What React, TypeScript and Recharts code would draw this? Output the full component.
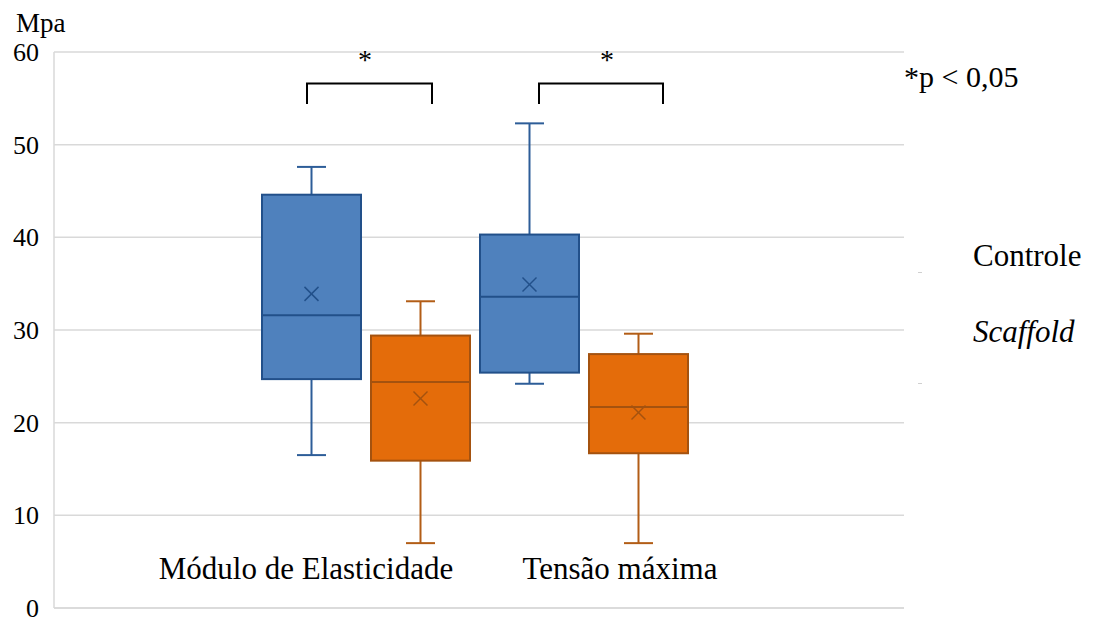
import {
  Bar,
  CartesianGrid,
  ComposedChart,
  Legend,
  XAxis,
  YAxis,
} from "recharts"

const categories = ["Módulo de Elasticidade", "Tensão máxima"]
const yTicks = [0, 10, 20, 30, 40, 50, 60]

const controleMin = [16.5, 24.2]
const controleQ1 = [24.7, 25.4]
const controleMedian = [31.6, 33.6]
const controleQ3 = [44.6, 40.3]
const controleMax = [47.6, 52.3]
const controleMean = [33.9, 34.9]

const scaffoldMin = [7.0, 7.0]
const scaffoldQ1 = [15.9, 16.7]
const scaffoldMedian = [24.4, 21.7]
const scaffoldQ3 = [29.4, 27.4]
const scaffoldMax = [33.1, 29.6]
const scaffoldMean = [22.6, 21.1]

// significance brackets: x in page pixels, heights in MPa
const bracketFrom = [307, 539]
const bracketTo = [432, 663]
const starX = [365, 607]
const bracketTop = 56.6
const bracketLeg = 54.4
const starLevel = 58.2

const data = categories.map((name, i) => ({
  name,
  idx: i,
  controle: [controleMin[i], controleMax[i]],
  scaffold: [scaffoldMin[i], scaffoldMax[i]],
}))

const labelShift = [-60, 36]
const FONT = '"Liberation Serif", "Times New Roman", serif'
const css = `#box-chart, #box-chart * { font-family: ${FONT} !important; }`

type Stats = {
  q1: number[]
  median: number[]
  q3: number[]
  mean: number[]
  min: number[]
  max: number[]
}

const makeBox = (s: Stats, fill: string, line: string, whisker: string, withBrackets: boolean) => (props: any) => {
  const { x, y, width, height, payload } = props
  const i = payload.idx
  const top = Math.min(y, y + height)
  const h = Math.abs(height)
  const k = h / (s.max[i] - s.min[i])
  const py = (v: number) => top + (s.max[i] - v) * k
  const cx = x + width / 2
  const cap = 14.5
  const m = 7
  return (
    <g>
      <line x1={cx} x2={cx} y1={py(s.max[i])} y2={py(s.q3[i])} stroke={whisker} strokeWidth={2} />
      <line x1={cx} x2={cx} y1={py(s.q1[i])} y2={py(s.min[i])} stroke={whisker} strokeWidth={2} />
      <line x1={cx - cap} x2={cx + cap} y1={py(s.max[i])} y2={py(s.max[i])} stroke={whisker} strokeWidth={2} />
      <line x1={cx - cap} x2={cx + cap} y1={py(s.min[i])} y2={py(s.min[i])} stroke={whisker} strokeWidth={2} />
      <rect
        x={x}
        y={py(s.q3[i])}
        width={width}
        height={py(s.q1[i]) - py(s.q3[i])}
        fill={fill}
        stroke={line}
        strokeWidth={2}
      />
      <line x1={x} x2={x + width} y1={py(s.median[i])} y2={py(s.median[i])} stroke={line} strokeWidth={2} />
      <line x1={cx - m} x2={cx + m} y1={py(s.mean[i]) - m} y2={py(s.mean[i]) + m} stroke={line} strokeWidth={1.5} />
      <line x1={cx - m} x2={cx + m} y1={py(s.mean[i]) + m} y2={py(s.mean[i]) - m} stroke={line} strokeWidth={1.5} />
      {withBrackets && (
        <g>
          <path
            d={`M${bracketFrom[i]},${py(bracketLeg)} V${py(bracketTop)} H${bracketTo[i]} V${py(bracketLeg)}`}
            fill="none"
            stroke="#000"
            strokeWidth={2}
          />
          <text x={starX[i]} y={py(starLevel)} textAnchor="middle" fill="#000" fontSize={28} fontFamily={FONT}>
            *
          </text>
        </g>
      )}
    </g>
  )
}

const ControleBox = makeBox(
  { q1: controleQ1, median: controleMedian, q3: controleQ3, mean: controleMean, min: controleMin, max: controleMax },
  "#4f81bd",
  "#22508a",
  "#2d5d98",
  true
)
const ScaffoldBox = makeBox(
  { q1: scaffoldQ1, median: scaffoldMedian, q3: scaffoldQ3, mean: scaffoldMean, min: scaffoldMin, max: scaffoldMax },
  "#e46c0a",
  "#a4520f",
  "#b25d16",
  false
)

const CategoryTick = (props: any) => {
  const { x, y, payload, index } = props
  return (
    <text x={x + labelShift[index]} y={y - 29} textAnchor="middle" fill="#000" fontSize={31} fontFamily={FONT}>
      {payload.value}
    </text>
  )
}

const ValueTick = (props: any) => {
  const { x, y, payload } = props
  return (
    <text x={x} y={y} dy={9} textAnchor="end" fill="#000" fontSize={26} fontFamily={FONT}>
      {payload.value}
    </text>
  )
}

const LegendContent = () => (
  <div style={{ position: "relative", width: 130, height: 160 }}>
    <span style={{ position: "absolute", left: -55, top: 34, width: 4, height: 1, background: "#d0d0d0" }} />
    <div style={{ position: "absolute", left: 0, top: 0, lineHeight: "36px", color: "#000", fontSize: 31 }}>Controle</div>
    <span style={{ position: "absolute", left: -55, top: 145, width: 4, height: 1, background: "#d0d0d0" }} />
    <div style={{ position: "absolute", left: 0, top: 76, lineHeight: "36px", color: "#000", fontSize: 31, fontStyle: "italic" }}>
      Scaffold
    </div>
  </div>
)

export default function App() {
  return (
    <div id="box-chart" style={{ position: "absolute", left: 0, top: 0, width: 1093, height: 620, background: "#fff", fontFamily: FONT }}>
      <style>{css}</style>
      <ComposedChart
        width={1093}
        height={620}
        data={data}
        margin={{ top: 52, right: 189, bottom: 11, left: 0 }}
        barSize={99}
        barGap={10}
      >
        <CartesianGrid vertical={false} stroke="#d9d9d9" strokeWidth={1.5} />
        <XAxis
          dataKey="name"
          height={1}
          padding={{ left: 203, right: 211 }}
          axisLine={{ stroke: "#d9d9d9", strokeWidth: 1.5 }}
          tickLine={false}
          tickSize={0}
          tickMargin={0}
          tick={<CategoryTick />}
          interval={0}
        />
        <YAxis
          width={54}
          domain={[0, 60]}
          ticks={yTicks}
          interval={0}
          axisLine={{ stroke: "#d9d9d9", strokeWidth: 1.5 }}
          tickLine={false}
          tickMargin={9}
          tick={<ValueTick />}
        />
        <Legend
          layout="horizontal"
          align="center"
          verticalAlign="middle"
          content={<LegendContent />}
          wrapperStyle={{ left: 973, top: 238, width: 130 }}
        />
        <Bar dataKey="controle" name="Controle" shape={<ControleBox />} isAnimationActive={false} />
        <Bar dataKey="scaffold" name="Scaffold" shape={<ScaffoldBox />} isAnimationActive={false} />
      </ComposedChart>
      <div style={{ position: "absolute", left: 16, top: 8, color: "#000", fontSize: 27 }}>Mpa</div>
      <div style={{ position: "absolute", left: 904, top: 60, color: "#000", fontSize: 30 }}>*p &lt; 0,05</div>
    </div>
  )
}
